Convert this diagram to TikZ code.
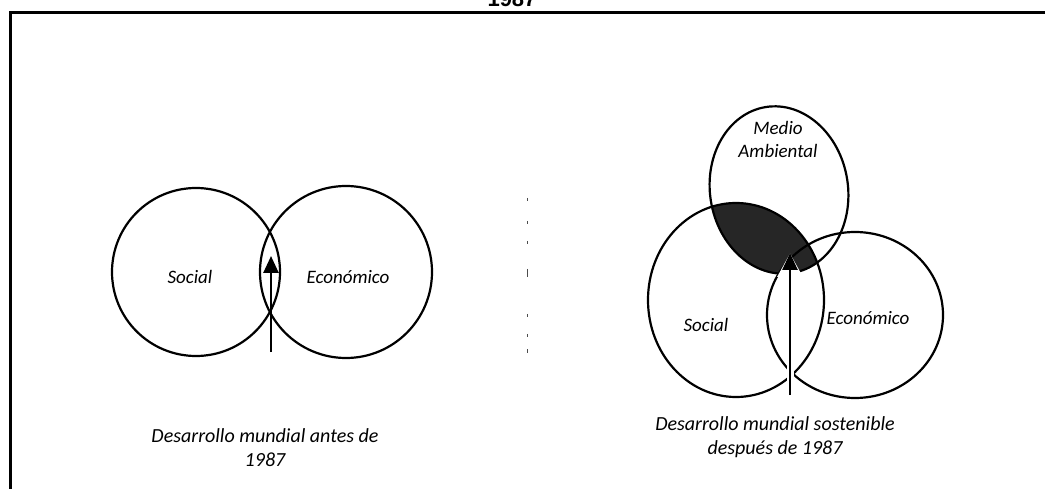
\documentclass[tikz,border=0pt]{standalone}
\usepackage{fontspec}
\setmainfont{Carlito}
\newfontfamily\titlefont{Liberation Sans}
\usetikzlibrary{arrows.meta,shapes.geometric}
\begin{document}
\begin{tikzpicture}[x=1pt,y=-1pt,
  ring/.style={draw, line width=2.2pt, inner sep=0pt},
  lbl/.style={font=\fontsize{19}{23}\selectfont\itshape, inner sep=0pt},
  captxt/.style={font=\fontsize{20}{24}\selectfont\itshape, align=center, inner sep=0pt},
  arr/.style={line width=2.6pt, -{Triangle[width=15pt,length=17pt]}},
  halo/.style={line width=7pt, white, -{Triangle[width=24pt,length=24pt]}}]
\useasboundingbox (0,0) rectangle (1045,489);
\clip (0,0) rectangle (1045,489);
% frame and cut-off title
\draw[line width=3pt] (10,489) -- (10,13) -- (1045,13);
\node[font=\titlefont\bfseries\fontsize{22}{26}\selectfont, anchor=base, inner sep=0pt] (title) at (512,7) {1987};
% faint divider
\draw[line width=1pt, black!70, dash pattern=on 3pt off 20pt on 3pt off 17pt on 3pt off 25pt on 8pt off 37pt on 3pt off 17pt on 3pt off 12pt on 4pt off 10pt] (527,198) -- (527,360);
% ---- left diagram
\node[circle, ring, minimum size=168pt] (soc1) at (196,272) {};
\node[circle, ring, minimum size=172pt] (eco1) at (346,272) {};
\node[lbl] (socl1) at (190,277) {Social};
\node[lbl] (ecol1) at (348,277) {Económico};
\coordinate (l0) at (271,352);
\coordinate (l1) at (271,256);
\draw[arr] (l0) -- (l1);
\node[captxt] (cap1) at (265,448) {Desarrollo mundial antes de\\1987};
% ---- right diagram
\begin{scope}
  \clip[rotate around={9:(779,190)}] (779,190) ellipse [x radius=69, y radius=84];
  \fill[black!85] (736,300) ellipse [x radius=88, y radius=97];
\end{scope}
\node[ellipse, ring, minimum width=138pt, minimum height=168pt, rotate=9] (medio) at (779,190) {};
\node[ellipse, ring, minimum width=176pt, minimum height=194pt] (soc2) at (736,300) {};
\node[ellipse, ring, minimum width=176pt, minimum height=166pt] (eco2) at (855,315) {};
\node[lbl, align=center] (medl) at (778,139) {Medio\\Ambiental};
\node[lbl] (socl2) at (706,325) {Social};
\node[lbl] (ecol2) at (868,318) {Económico};
\coordinate (r0) at (790,395);
\coordinate (r1) at (790,253);
\draw[halo] (r0) -- (r1);
\draw[arr] (r0) -- (r1);
\node[captxt] (cap2) at (775,437) {Desarrollo mundial sostenible\\después de 1987};
\end{tikzpicture}
\end{document}
